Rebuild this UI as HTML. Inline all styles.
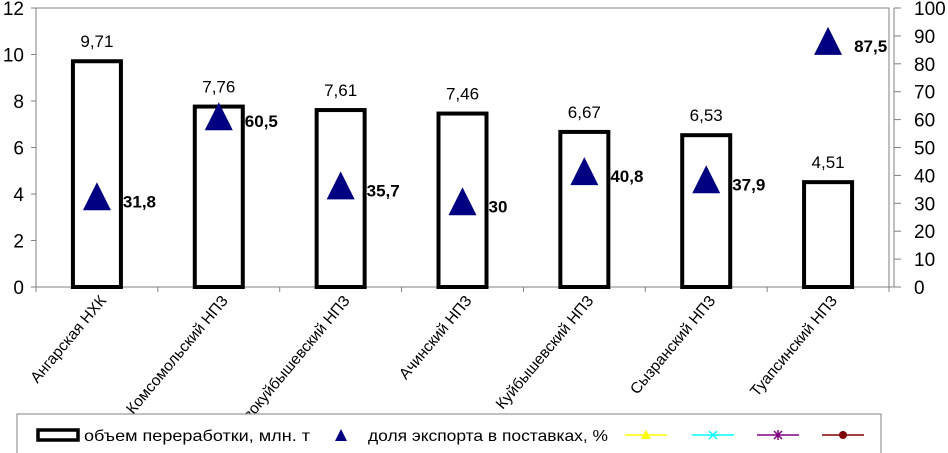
<!DOCTYPE html>
<html><head><meta charset="utf-8"><style>
html,body{margin:0;padding:0;background:#fff;}
svg{display:block;font-family:"Liberation Sans","DejaVu Sans",sans-serif;}
</style></head><body>
<svg id="chart" width="948" height="453" xmlns="http://www.w3.org/2000/svg">
<g id="axes"></g>
<g id="marks"></g>
<g id="legend">
<rect x="17" y="414" width="864" height="50" fill="#fff" stroke="#808080" stroke-width="1"/>
<rect x="38" y="430" width="40" height="10" fill="#fff" stroke="#000" stroke-width="3.5"/>
<text x="84" y="441" font-size="16" textLength="226" lengthAdjust="spacingAndGlyphs">объем переработки, млн. т</text>
<polygon points="341,429 335,441 347,441" fill="#000080"/>
<text x="368" y="441" font-size="16" textLength="240" lengthAdjust="spacingAndGlyphs">доля экспорта в поставках, %</text>
<line x1="625" y1="435" x2="667" y2="435" stroke="#ffff00" stroke-width="1.5"/>
<polygon points="646,430 641,439 651,439" fill="#ffff00"/>
<line x1="692" y1="435" x2="734" y2="435" stroke="#00ffff" stroke-width="1.5"/>
<path d="M709,431 L717,439 M717,431 L709,439" stroke="#00ffff" stroke-width="1.5"/>
<line x1="757" y1="435" x2="799" y2="435" stroke="#800080" stroke-width="1.5"/>
<path d="M774,431 L782,439 M782,431 L774,439 M778,430 L778,440" stroke="#800080" stroke-width="1.5"/>
<line x1="822" y1="435" x2="864" y2="435" stroke="#800000" stroke-width="1.5"/>
<circle cx="843" cy="435" r="4" fill="#800000"/>
</g>
</svg>
<script>
const categories = ["Ангарская НХК","Комсомольский НПЗ","Новокуйбышевский НПЗ","Ачинский НПЗ","Куйбышевский НПЗ","Сызранский НПЗ","Туапсинский НПЗ"];
const volumeValues = [9.71,7.76,7.61,7.46,6.67,6.53,4.51];
const exportValues = [31.8,60.5,35.7,30,40.8,37.9,87.5];
const leftTicks = [0,2,4,6,8,10,12];
const rightTicks = [0,10,20,30,40,50,60,70,80,90,100];

const NS="http://www.w3.org/2000/svg";
const L=36,R=889,T=8,B=287,RA=894;
const bw=(R-L)/categories.length;
const xC=i=>L+bw*(i+0.5);
const yL=v=>B-(v/12)*(B-T);
const yR=v=>B-(v/100)*(B-T);
function mk(tag,attrs,parent,text){const e=document.createElementNS(NS,tag);for(const k in attrs)e.setAttribute(k,attrs[k]);if(text!==undefined)e.textContent=text;parent.appendChild(e);return e;}
const axes=document.getElementById('axes'),marks=document.getElementById('marks');
const fmt=v=>String(v).replace('.',',');

let e=mk('rect',{x:L,y:T,width:R-L,height:B-T,fill:'none',stroke:'#808080','stroke-width':1},axes);


e=mk('line',{x1:L,y1:T,x2:L,y2:B,stroke:'#808080'},axes);


e=mk('line',{x1:RA,y1:T,x2:RA,y2:B,stroke:'#808080'},axes);


e=mk('line',{x1:L,y1:B,x2:RA,y2:B,stroke:'#808080'},axes);


leftTicks.forEach(t=>{
  const y=yL(t);
  const tk=mk('line',{x1:L-5,y1:y,x2:L,y2:y,stroke:'#808080'},axes);
  
  
  const tx=mk('text',{x:L-12,y:y+7,'font-size':19,'text-anchor':'end'},axes,t);
  
  
});
rightTicks.forEach(t=>{
  const y=yR(t);
  const tk=mk('line',{x1:RA,y1:y,x2:RA+7,y2:y,stroke:'#808080'},axes);
  
  
  const tx=mk('text',{x:RA+20,y:y+7,'font-size':19},axes,t);
  
  
});
for(let i=0;i<=categories.length;i++){
  const x=L+bw*i;
  const tk=mk('line',{x1:x,y1:B,x2:x,y2:B+5,stroke:'#808080'},axes);
  
  
}
categories.forEach((c,i)=>{
  const x=xC(i)+10,y=B+14;
  const t=mk('text',{x:x,y:y,'font-size':15.5,'text-anchor':'end',transform:`rotate(-50 ${x} ${y})`},axes,c);
  
  
});
volumeValues.forEach((v,i)=>{
  const w=48,x=xC(i)-w/2,y=yL(v);
  const b=mk('rect',{x:x,y:y,width:w,height:B-y,fill:'#fff',stroke:'#000','stroke-width':4},marks);
  
  
  const t=mk('text',{x:xC(i),y:y-14,'font-size':17,'text-anchor':'middle'},marks,fmt(v));
  
  
});
exportValues.forEach((v,i)=>{
  const cx=xC(i),cy=yR(v);
  const p=mk('polygon',{points:`${cx},${cy-16} ${cx-14},${cy+12} ${cx+14},${cy+12}`,fill:'#000080'},marks);
  
  
  const t=mk('text',{x:cx+26,y:cy+9,'font-size':17,'font-weight':'bold'},marks,fmt(v));
  
  
});
</script>
</body></html>
